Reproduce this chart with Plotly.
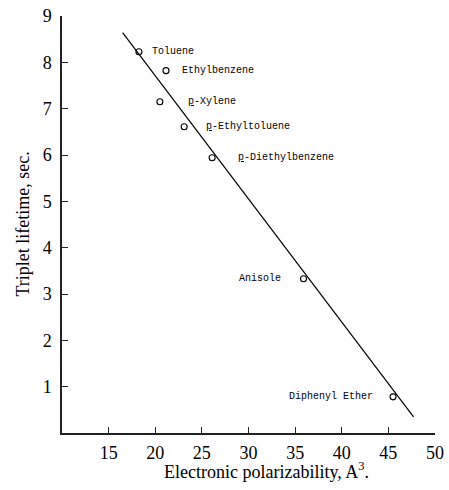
import plotly.graph_objects as go

# Data
compounds = ["Toluene", "Ethylbenzene", "<u>p</u>-Xylene", "<u>p</u>-Ethyltoluene",
             "<u>p</u>-Diethylbenzene", "Anisole", "Diphenyl Ether"]
polarizability = [18.25, 21.15, 20.5, 23.1, 26.1, 35.9, 45.5]
lifetime = [8.23, 7.82, 7.15, 6.61, 5.94, 3.33, 0.78]

fit_x = [16.5, 47.7]
fit_y = [8.64, 0.35]

x_ticks = [15, 20, 25, 30, 35, 40, 45, 50]
y_ticks = [1, 2, 3, 4, 5, 6, 7, 8, 9]

# label placement (styling only)
label_side = ["right", "right", "right", "right", "right", "left", "left"]
label_shift = [11, 14, 26, 20, 24, -21, -18]

fig = go.Figure()
fig.add_trace(go.Scatter(x=fit_x, y=fit_y, mode="lines",
                         line=dict(color="black", width=1.2), hoverinfo="skip"))
fig.add_trace(go.Scatter(x=polarizability, y=lifetime, mode="markers",
                         marker=dict(symbol="circle-open", size=6,
                                     color="black", line=dict(width=1.1))))

for name, xv, yv, side, sh in zip(compounds, polarizability, lifetime, label_side, label_shift):
    fig.add_annotation(x=xv, y=yv, text=name, showarrow=False,
                       xanchor="left" if side == "right" else "right",
                       yanchor="middle", xshift=sh, yshift=0,
                       font=dict(family="Liberation Mono", size=10, color="black"))

serif = "Liberation Serif"
fig.add_annotation(xref="paper", yref="paper", x=0.548, y=-0.089,
                   text="Electronic polarizability, A<sup>3</sup>.",
                   showarrow=False, xanchor="center", yanchor="middle",
                   font=dict(family=serif, size=18, color="black"))
fig.add_annotation(xref="paper", yref="paper", x=-0.107, y=0.5,
                   text="Triplet lifetime, sec.", textangle=-90,
                   showarrow=False, xanchor="center", yanchor="middle",
                   font=dict(family=serif, size=18, color="black"))

fig.update_xaxes(range=[10, 50], tickvals=x_ticks, ticks="inside", ticklen=6,
                 tickcolor="#222", showline=True, linecolor="#222", linewidth=1.5,
                 showgrid=False, zeroline=False, automargin=False,
                 ticklabelstandoff=3, ticklabeloverflow="allow",
                 tickfont=dict(family=serif, size=18, color="black"))
fig.update_yaxes(range=[0, 9], tickvals=y_ticks, ticks="inside", ticklen=6,
                 tickcolor="#222", showline=True, linecolor="#222", linewidth=1.5,
                 showgrid=False, zeroline=False, automargin=False,
                 ticklabelstandoff=5, ticklabeloverflow="allow",
                 tickfont=dict(family=serif, size=18, color="black"))

fig.update_layout(width=449, height=490, showlegend=False,
                  plot_bgcolor="white", paper_bgcolor="white",
                  margin=dict(l=62, r=14, t=16, b=57))

fig.write_html("out.html",
               config={"displayModeBar": False},
               post_script="document.body.style.margin='0';"
                           "document.body.style.overflow='hidden';")
